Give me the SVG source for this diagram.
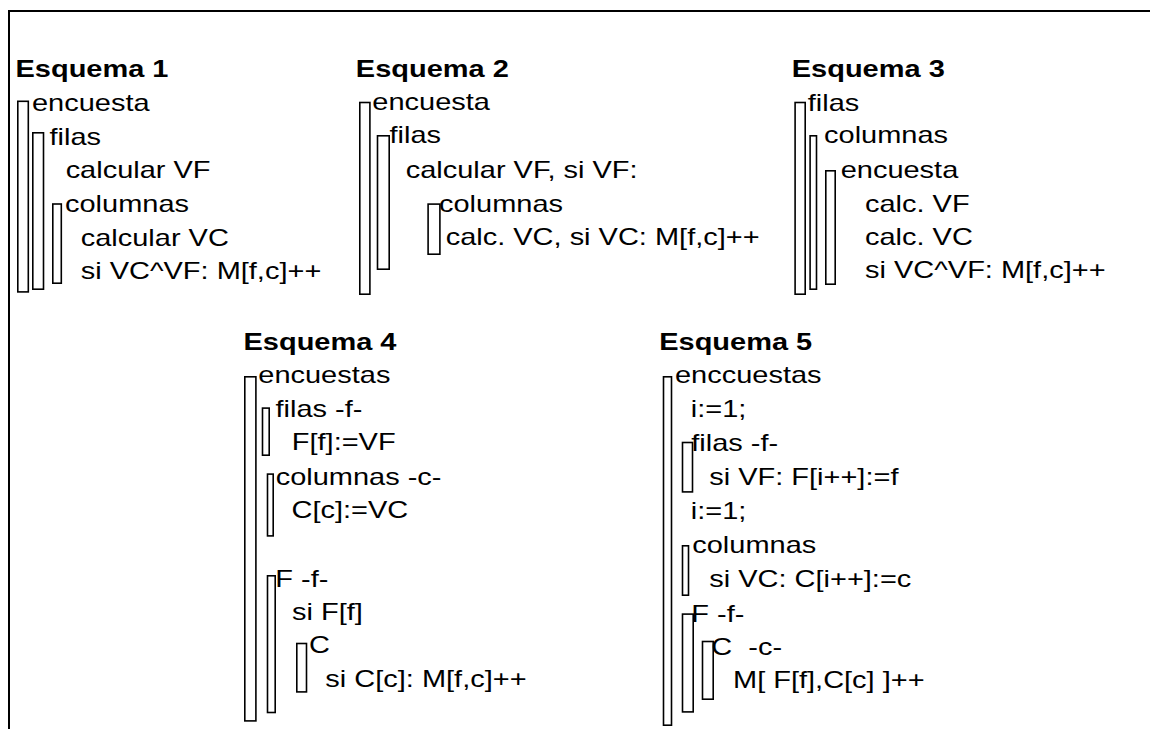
<svg xmlns="http://www.w3.org/2000/svg" width="1150" height="729" viewBox="0 0 1150 729">
<style>
.bg{fill:#fff}
.frame{stroke:#000;stroke-width:2;fill:none}
.box{fill:#fff;stroke:#000;stroke-width:1.6}
text{font-family:"Liberation Sans",Arial,sans-serif;font-size:23px;fill:#000}
.h{font-weight:bold}
.pre{white-space:pre}
</style>
<rect class="bg" x="0" y="0" width="1150" height="729"/>
<g id="frame">
<line class="frame" x1="8" y1="11" x2="1150" y2="11"/>
<line class="frame" x1="9" y1="10" x2="9" y2="729"/>
</g>
<g id="esquema1">
<rect class="box" x="17.8" y="101.3" width="10.5" height="190.6"/>
<rect class="box" x="32.8" y="132.8" width="10.7" height="156.4"/>
<rect class="box" x="52.8" y="204" width="8.5" height="79.2"/>
<g transform="scale(1.26 1)">
<text class="h" x="12.3" y="77">Esquema 1</text>
<text x="25.4" y="110.7">encuesta</text>
<text x="39.3" y="145">filas</text>
<text x="52.1" y="178">calcular VF</text>
<text x="51.6" y="212">columnas</text>
<text x="64.05" y="246">calcular VC</text>
<text x="64.05" y="279">si VC^VF: M[f,c]++</text>
</g>
</g>
<g id="esquema2">
<rect class="box" x="359.8" y="102.5" width="10.1" height="191.7"/>
<rect class="box" x="377.5" y="135.8" width="11.7" height="133.4"/>
<rect class="box" x="428.1" y="204.1" width="11.8" height="50.1"/>
<g transform="scale(1.26 1)">
<text class="h" x="282.4" y="76.7">Esquema 2</text>
<text x="295.5" y="110">encuesta</text>
<text x="309.1" y="143.3">filas</text>
<text x="322" y="178.3">calcular VF, si VF:</text>
<text x="348.4" y="211.7">columnas</text>
<text x="353.7" y="245">calc. VC, si VC: M[f,c]++</text>
</g>
</g>
<g id="esquema3">
<rect class="box" x="795.1" y="102.5" width="10.1" height="191.7"/>
<rect class="box" x="810.1" y="135.8" width="6.4" height="153.4"/>
<rect class="box" x="825.8" y="170.8" width="9.4" height="113.4"/>
<g transform="scale(1.26 1)">
<text class="h" x="628.4" y="76.7">Esquema 3</text>
<text x="641.1" y="110.7">filas</text>
<text x="654" y="143.3">columnas</text>
<text x="667.2" y="178.3">encuesta</text>
<text x="686.5" y="211.7">calc. VF</text>
<text x="686.5" y="245">calc. VC</text>
<text x="686.5" y="278.3">si VC^VF: M[f,c]++</text>
</g>
</g>
<g id="esquema4">
<rect class="box" x="244.8" y="376.8" width="11.1" height="344.1"/>
<rect class="box" x="262.5" y="408.1" width="6.7" height="47.1"/>
<rect class="box" x="267.5" y="474.1" width="5.7" height="61.8"/>
<rect class="box" x="267.5" y="575.8" width="7.7" height="136.7"/>
<rect class="box" x="296.8" y="643.5" width="9.7" height="48.4"/>
<g transform="scale(1.26 1)">
<text class="h" x="193.25" y="350">Esquema 4</text>
<text x="205" y="383.3">encuestas</text>
<text x="218.65" y="416.7">filas -f-</text>
<text x="231.6" y="450">F[f]:=VF</text>
<text x="218.8" y="485">columnas -c-</text>
<text x="231.35" y="518.3">C[c]:=VC</text>
<text x="218.5" y="586.7">F -f-</text>
<text x="231.75" y="620">si F[f]</text>
<text x="245.2" y="652.7">C</text>
<text x="258.2" y="686.7">si C[c]: M[f,c]++</text>
</g>
</g>
<g id="esquema5">
<rect class="box" x="663.5" y="376.8" width="8" height="348.4"/>
<rect class="box" x="682.5" y="442.5" width="10" height="49.4"/>
<rect class="box" x="682.5" y="545.8" width="6" height="49.4"/>
<rect class="box" x="682.5" y="614.1" width="10.7" height="97.8"/>
<rect class="box" x="702.5" y="641.5" width="10.7" height="57.7"/>
<g transform="scale(1.26 1)">
<text class="h" x="523.2" y="350">Esquema 5</text>
<text x="535.7" y="383.3">enccuestas</text>
<text x="548.2" y="416.7">i:=1;</text>
<text x="548.6" y="451">filas -f-</text>
<text x="562.9" y="485">si VF: F[i++]:=f</text>
<text x="548.2" y="519">i:=1;</text>
<text x="549.4" y="553.3">columnas</text>
<text x="562.9" y="586.7">si VC: C[i++]:=c</text>
<text x="548.65" y="621.7">F -f-</text>
<text class="pre" x="564.5" y="655">C  -c-</text>
<text x="581.75" y="688.3">M[ F[f],C[c] ]++</text>
</g>
</g>
</svg>
